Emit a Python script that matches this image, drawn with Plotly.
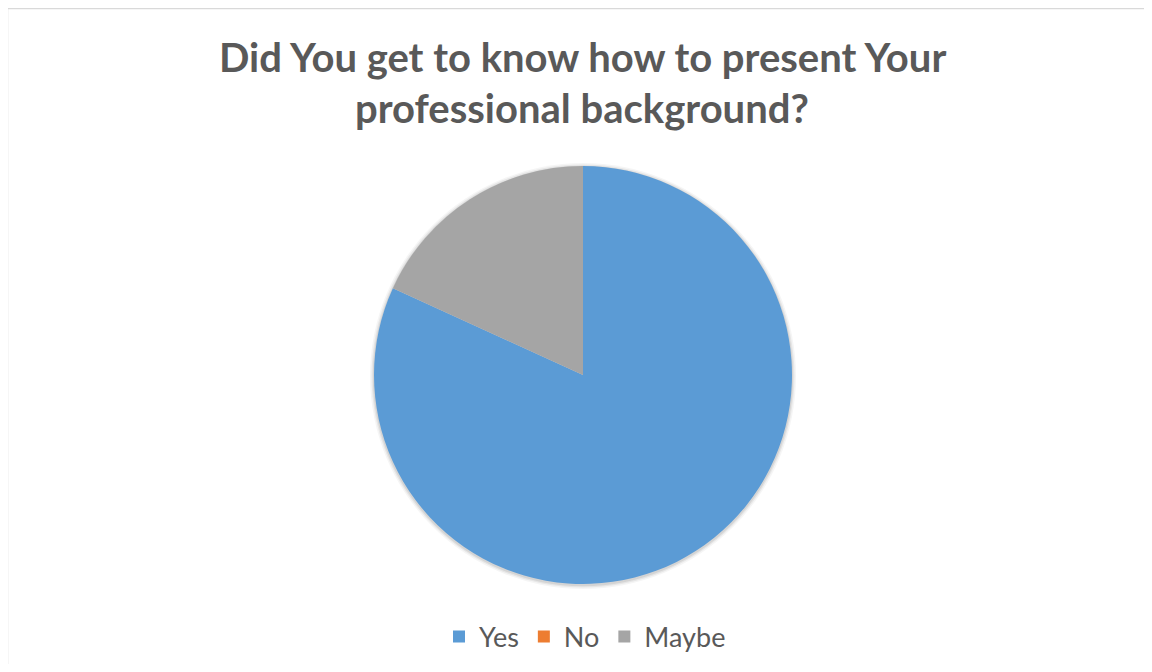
import plotly.graph_objects as go

title_lines = ["Did You get to know how to present Your", "professional background?"]
labels = ["Yes", "No", "Maybe"]
values = [9, 0, 2]
colors = ["#5B9BD5", "#ED7D31", "#A5A5A5"]

# The page adds an 8px body margin, so the figure is 16px smaller than the window
OFF = 8
W, H = 1152 - 2 * OFF, 672 - 2 * OFF
cx, cy, r = 583 - OFF, 375 - OFF, 209


def px_x(x):
    return x / W


def px_y(y):
    return 1 - y / H


fig = go.Figure(go.Pie(
    labels=labels,
    values=values,
    sort=False,
    direction="clockwise",
    rotation=0,
    textinfo="none",
    hoverinfo="label+value+percent",
    marker=dict(colors=colors, line=dict(color="rgba(0,0,0,0)", width=0)),
    domain=dict(x=[px_x(cx - r), px_x(cx + r)], y=[px_y(cy + r), px_y(cy - r)]),
))

# soft shadow around the pie
for extra, alpha in [(4, 0.04), (2.5, 0.06), (1.2, 0.08)]:
    fig.add_shape(
        type="circle", xref="paper", yref="paper",
        x0=px_x(cx - r - extra), x1=px_x(cx + r + extra),
        y0=px_y(cy + r + extra + 1), y1=px_y(cy - r - extra + 1),
        line=dict(width=0), fillcolor=f"rgba(0,0,0,{alpha})", layer="below",
    )

title_font = dict(family="Lato", size=40, color="#595959")
for line, ypx in zip(title_lines, [57, 108]):
    fig.add_annotation(
        text="<b>" + line + "</b>", x=px_x(582 - OFF), y=px_y(ypx - OFF), xref="paper", yref="paper",
        xanchor="center", yanchor="middle", showarrow=False, font=title_font,
    )

# chart frame: only top and left edges are inside the page
frame = dict(color="#D9D9D9", width=1.5)
fig.add_shape(type="line", xref="paper", yref="paper",
              x0=px_x(-0.5), x1=1.0, y0=px_y(0.5), y1=px_y(0.5), line=frame)
fig.add_shape(type="line", xref="paper", yref="paper",
              x0=px_x(-0.5), x1=px_x(-0.5), y0=0.0, y1=px_y(0.5), line=frame)

fig.update_layout(
    width=W, height=H,
    margin=dict(l=0, r=0, t=0, b=0),
    paper_bgcolor="white",
    plot_bgcolor="white",
    showlegend=True,
    legend=dict(
        orientation="h", x=px_x(585 - OFF), xanchor="center", y=px_y(637 - OFF), yanchor="middle",
        font=dict(family="Lato", size=27, color="#595959"),
        itemsizing="constant",
    ),
)

fig.write_html("out.html")
